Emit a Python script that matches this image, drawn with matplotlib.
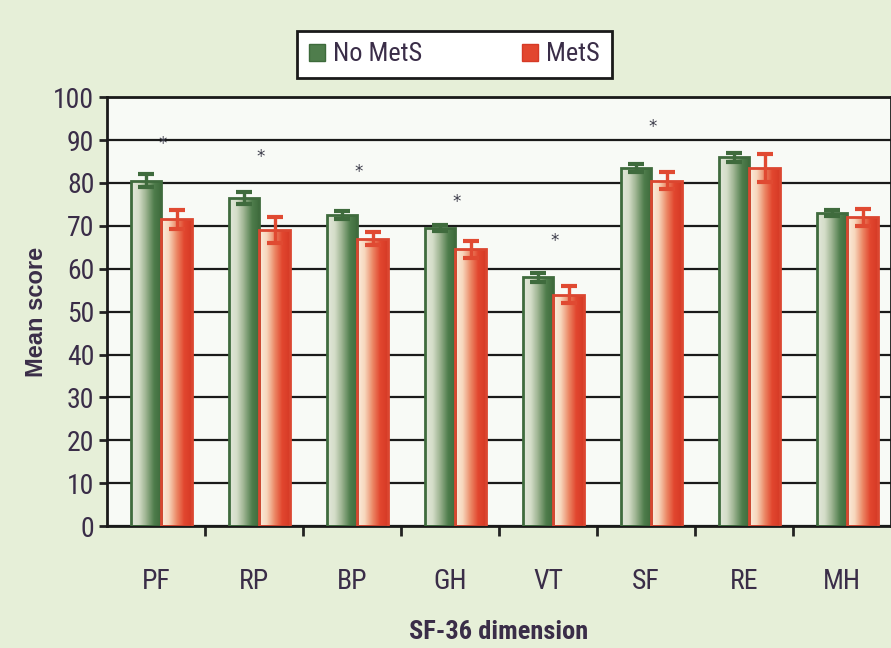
import numpy as np
import matplotlib
matplotlib.use('Agg')
import matplotlib.pyplot as plt
from matplotlib.colors import LinearSegmentedColormap
from matplotlib.patches import Patch

# Data
dimensions = ['PF', 'RP', 'BP', 'GH', 'VT', 'SF', 'RE', 'MH']
no_mets = [80.5, 76.5, 72.5, 69.5, 58, 83.5, 86, 73]
no_mets_err = [1.5, 1.5, 1.0, 0.7, 1.0, 1.0, 1.0, 0.7]
mets = [71.5, 69, 67, 64.5, 54, 80.5, 83.5, 72]
mets_err = [2.2, 3.0, 1.5, 2.0, 2.0, 2.0, 3.3, 2.0]
star_dims = ['PF', 'RP', 'BP', 'GH', 'VT', 'SF']
star_heights = [89, 86, 82.5, 75.5, 66.5, 93]

plt.rcParams['font.family'] = ['Roboto Condensed', 'Liberation Sans Narrow',
                               'Liberation Sans', 'DejaVu Sans']
text_color = '#3a2d48'

fig = plt.figure(figsize=(8.91, 6.48), dpi=100)
fig.patch.set_facecolor('#e6efd8')
ax = fig.add_axes([0.120, 0.188, 0.880, 0.662])
ax.set_facecolor('#f8faf6')

green_cmap = LinearSegmentedColormap.from_list(
    'g', ['#e2e8da', '#d4ddc8', '#98b08c', '#4f7d4c', '#3d6a3b'])
red_cmap = LinearSegmentedColormap.from_list(
    'r', ['#fbeedd', '#f7d6bc', '#ec8a68', '#e2472f', '#d63a26'])

x = np.arange(len(dimensions))
width = 0.31
ax.set_xlim(-0.5, len(dimensions) - 0.5)
ax.set_ylim(0, 100)

grad = np.linspace(0, 1, 64).reshape(1, -1)


def gradient_bars(xpos, heights, cmap, edge):
    bars = ax.bar(xpos, heights, width, facecolor='none', edgecolor=edge,
                  linewidth=2, zorder=3)
    for b in bars:
        x0, y0 = b.get_x(), b.get_y()
        im = ax.imshow(grad, cmap=cmap, aspect='auto', zorder=2.5,
                       extent=(x0, x0 + b.get_width(), y0, y0 + b.get_height()))
        im.set_clip_path(b)
    return bars


gradient_bars(x - 0.10, no_mets, green_cmap, '#3f6b3d')
gradient_bars(x + 0.21, mets, red_cmap, '#db4630')

ax.errorbar(x - 0.10, no_mets, yerr=no_mets_err, fmt='none', ecolor='#3f6b3d',
            elinewidth=2.4, capsize=5.5, capthick=3, zorder=4)
ax.errorbar(x + 0.21, mets, yerr=mets_err, fmt='none', ecolor='#e04a32',
            elinewidth=2.4, capsize=5.5, capthick=3, zorder=4)

# significance markers
for d, h in zip(star_dims, star_heights):
    ax.text(dimensions.index(d) + 0.07, h, '*', ha='center', va='center',
            fontsize=12, color='#3a3a48', family='DejaVu Sans')

# axes styling
ax.set_ylim(0, 100)
ax.set_xlim(-0.5, len(dimensions) - 0.5)
ax.set_yticks(np.arange(0, 101, 10))
ax.yaxis.grid(True, color='#1a1a1a', linewidth=1.6)
ax.set_axisbelow(True)
ax.set_xticks(x)
ax.set_xticklabels(dimensions)
ax.set_xticks(np.arange(0.5, len(dimensions) - 0.5, 1), minor=True)
ax.tick_params(axis='x', which='major', length=0, pad=30, labelsize=20,
               labelcolor=text_color)
ax.tick_params(axis='x', which='minor', length=7, width=2, color='#222222',
               direction='out')
ax.tick_params(axis='y', length=6, width=2, color='#222222', labelsize=20,
               labelcolor=text_color, pad=3)
for s in ax.spines.values():
    s.set_color('#1a1a1a')
    s.set_linewidth(2)

ax.set_ylabel('Mean score', fontsize=17, fontweight='bold', color=text_color,
              family=['Liberation Sans', 'DejaVu Sans'], labelpad=4)
ax.set_xlabel('SF-36 dimension', fontsize=19, fontweight='bold',
              color=text_color, labelpad=18)

handles = [Patch(facecolor='#4f7d4c', edgecolor='#3d6a3b'),
           Patch(facecolor='#e2472f', edgecolor='#d63a26')]
leg = fig.legend(handles, ['No MetS', 'MetS'], loc='center',
                 bbox_to_anchor=(0.51, 0.916), ncol=2, frameon=True,
                 fancybox=False, edgecolor='#1a1a1a', facecolor='white',
                 framealpha=1, fontsize=19, columnspacing=3.8,
                 handlelength=0.6, handleheight=0.6, handletextpad=0.3,
                 borderpad=0.45, borderaxespad=0, labelcolor=text_color)
leg.get_frame().set_linewidth(2)

fig.savefig('out.png', dpi=100, facecolor=fig.get_facecolor())
